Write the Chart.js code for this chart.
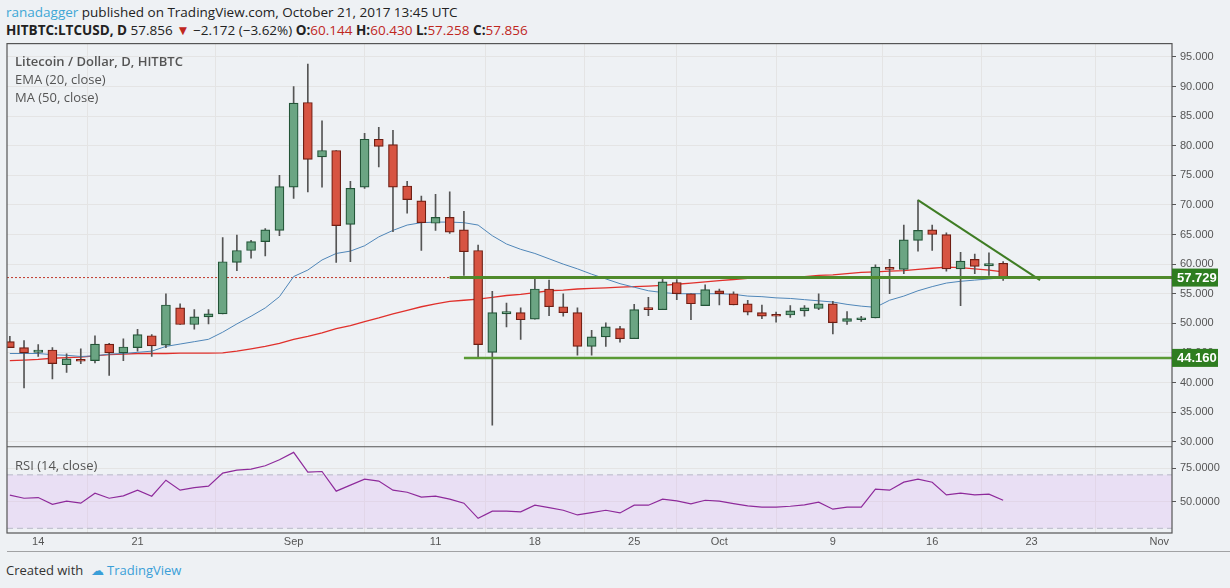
<!DOCTYPE html>
<html><head><meta charset="utf-8">
<script src="https://cdn.jsdelivr.net/npm/chart.js@4.4.1/dist/chart.umd.min.js"></script>
<style>
body{margin:0;width:1230px;height:588px;background:#eef1f4;font-family:"Open Sans",sans-serif;position:relative;overflow:hidden}
#h1{position:absolute;left:6px;top:3px;font-size:13.5px;color:#222}
#h2{position:absolute;left:6px;top:21px;font-size:13.5px;color:#222}
#h2 .r{color:#c0271e}
#leg{position:absolute;left:15px;top:52px;font-size:13px;color:#555;line-height:18px}
#foot{position:absolute;left:6px;top:561px;font-size:13px;color:#333}
#foot .tv{color:#3a9fd8;margin-left:4px}
canvas{position:absolute;left:0;top:33px}
</style></head><body>
<div id="h1"><span style="color:#3fa7d6">ranadagger</span> published on TradingView.com, October 21, 2017 13:45 UTC</div>
<div id="h2"><b>HITBTC:LTCUSD, D</b> 57.856 <span class="r">▼</span> −2.172 (−3.62%) <b>O:</b><span class="r">60.144</span> <b>H:</b><span class="r">60.430</span> <b>L:</b><span class="r">57.258</span> <b>C:</b><span class="r">57.856</span></div>
<canvas id="c" width="1230" height="519"></canvas>
<div id="leg"><span style="font-weight:600">Litecoin / Dollar, D, HITBTC</span><br>EMA (20, close)<br>MA (50, close)</div>
<div id="rsil" style="position:absolute;left:15px;top:456px;font-size:13px;color:#555">RSI (14, close)</div>
<div id="foot">Created with <span class="tv">☁ TradingView</span></div>
<script>
const opens=[46.9,45.9,45.1,45.5,43.0,43.8,43.7,46.5,45.0,45.9,47.9,46.3,52.6,49.8,51.1,51.6,60.3,62.3,63.8,65.7,73.0,87.3,78.1,79.2,66.7,73.0,81.1,80.2,73.2,70.7,66.9,67.9,65.8,62.3,45.1,51.6,51.8,50.7,55.8,52.8,51.8,46.1,47.7,49.1,47.4,52.4,52.3,56.9,55.0,53.0,55.5,55.0,53.3,51.8,51.4,51.4,52.1,52.5,53.3,50.3,50.6,50.9,59.4,59.1,64.0,65.8,65.0,59.2,60.8,59.7,60.144];
const highs=[47.8,47.1,46.4,45.9,44.85,45.7,47.9,46.6,47.4,49.0,48.1,55.0,53.3,52.3,52.3,64.5,64.9,64.0,66.0,75.0,90.0,93.8,84.2,79.2,74.0,82.1,83.1,82.6,74.0,71.5,71.8,72.2,68.9,63.2,55.4,53.4,52.6,57.7,57.3,55.0,52.6,48.8,50.1,49.5,53.2,54.4,57.5,57.4,55.0,56.5,55.8,55.3,53.9,53.1,51.9,53.0,53.0,55.0,53.7,52.0,51.2,59.9,60.8,66.6,70.8,66.6,65.3,62.0,61.7,61.9,60.43];
const lows=[45.9,39.1,44.4,40.6,41.7,43.2,43.3,41.2,43.7,45.3,44.4,45.9,49.8,49.0,49.9,51.6,58.9,61.0,61.4,64.8,71.1,72.2,73.0,60.3,60.4,72.8,76.4,65.5,68.6,62.3,65.7,65.2,58.1,44.3,32.8,49.4,47.3,50.7,51.3,51.2,44.6,44.6,46.1,46.8,47.4,51.3,52.3,54.0,50.6,53.0,53.1,53.1,51.4,50.8,50.2,51.0,51.2,52.3,48.2,49.8,50.3,50.9,55.0,58.4,62.2,62.3,58.8,53.0,58.4,58.1,57.258];
const closes=[45.9,45.0,45.5,43.2,44.0,43.6,46.5,45.0,46.0,48.1,46.2,53.1,49.8,51.1,51.6,60.4,62.3,63.8,65.8,73.1,87.2,77.7,79.2,66.5,72.8,81.1,79.9,73.0,70.9,67.0,67.9,65.4,62.1,46.4,51.8,52.0,50.6,55.8,52.8,51.8,46.1,47.7,49.4,47.4,52.3,52.3,57.0,55.0,53.3,55.7,55.0,53.1,51.9,51.2,51.2,52.1,52.6,53.3,50.1,50.8,50.8,59.5,59.1,64.1,65.7,65.0,59.2,60.5,59.6,60.1,57.856];
const ema20=[44.9,44.9,44.9,44.7,44.6,44.4,44.5,44.8,44.9,45.1,45.3,46.1,46.5,46.9,47.3,48.5,49.9,51.2,52.6,54.5,57.9,59.0,60.7,61.8,62.2,63.1,64.6,65.7,66.6,67.0,67.1,67.1,67.0,66.6,64.8,63.4,62.5,61.8,60.9,60.0,59.2,58.3,57.5,56.7,56.1,55.5,55.2,55.0,55.0,55.0,55.0,54.9,54.6,54.5,54.3,54.2,54.0,53.8,53.6,53.2,52.9,52.7,53.9,54.6,55.5,56.2,56.8,57.1,57.3,57.5,57.7];
const ma50=[43.7,43.8,43.9,44.1,44.2,44.3,44.5,44.7,44.8,44.9,44.9,44.9,44.95,44.95,44.95,45.0,45.3,45.7,46.1,46.6,47.3,47.8,48.4,49.1,49.6,50.3,50.9,51.6,52.2,52.8,53.3,53.7,53.9,54.1,54.4,54.7,54.9,55.2,55.5,55.6,55.8,55.9,56.0,56.1,56.2,56.3,56.4,56.6,56.8,57.0,57.2,57.4,57.6,57.7,57.7,57.8,57.9,58.1,58.2,58.4,58.6,58.7,58.8,58.9,59.1,59.3,59.5,59.4,59.2,59.0,58.7];
const rsi14=[54.8,52.5,53.0,48.0,50.3,48.8,56.3,52.5,54.3,58.5,54.0,66.0,58.5,60.5,61.5,71.3,73.5,74.3,76.8,81.3,86.8,72.0,72.5,57.8,62.3,66.8,65.3,58.5,57.0,53.3,54.0,51.8,48.8,37.5,42.8,42.8,42.3,47.3,45.5,43.5,40.0,41.8,43.5,41.5,47.3,47.3,51.8,50.5,48.3,51.0,50.3,48.5,46.8,45.8,45.8,46.5,47.5,49.5,44.3,45.8,45.8,59.3,58.5,64.5,66.8,64.5,55.0,56.3,55.0,55.5,51.0];
const tickDays=[2,9,20,30,37,44,50,58,65,72,81];
const tickLabels=['14','21','Sep','11','18','25','Oct','9','16','23','Nov'];
const resistance=57.729, support=44.160;
const resStart=31, supStart=32, lineEnd=82;
const trendline=[{x:64,y:70.8},{x:72.6,y:57.3}];

const days=opens.map((_,i)=>i);
const up=opens.map((o,i)=>closes[i]>=o);
const bodyFill=up.map(u=>u?'#6ba583':'#d75442');
const bodyBorder=up.map(u=>u?'#225437':'#6f1e13');

const panePlugin={id:'pane',
 beforeDatasetsDraw(ch){const c=ch.ctx,a=ch.chartArea,r=ch.scales.y2,x=ch.scales.x;
  c.save();c.fillStyle='rgba(221,170,245,0.25)';
  const y70=r.getPixelForValue(70),y30=r.getPixelForValue(30);
  c.fillRect(a.left,y70,a.right-a.left,y30-y70);
  c.strokeStyle='#b8b8c8';c.setLineDash([6,4]);c.lineWidth=1;
  [y70,y30].forEach(y=>{c.beginPath();c.moveTo(a.left,y);c.lineTo(a.right,y);c.stroke();});
  c.setLineDash([]);
  const yp=ch.scales.y.getPixelForValue(resistance);
  c.strokeStyle='#c0392b';c.setLineDash([2,2]);c.beginPath();c.moveTo(a.left,yp);c.lineTo(x.getPixelForValue(resStart),yp);c.stroke();
  c.restore();},
 afterDraw(ch){const c=ch.ctx,a=ch.chartArea,y=ch.scales.y;
  c.save();c.strokeStyle='#555';c.lineWidth=1.2;
  c.strokeRect(a.left,a.top,a.right-a.left,a.bottom-a.top);
  c.beginPath();c.moveTo(a.left,y.bottom);c.lineTo(a.right,y.bottom);c.stroke();
  c.beginPath();c.moveTo(a.left,a.bottom+19);c.lineTo(1230,a.bottom+19);c.stroke();
  c.font='bold 13px Arial';c.textBaseline='middle';
  [resistance,support].forEach(v=>{const p=y.getPixelForValue(v);
   c.fillStyle='#2e7d20';c.fillRect(a.right,p-9,46,18);c.fillStyle='#fff';c.fillText(v.toFixed(3),a.right+5,p+1);});
  c.restore();}
};

const pts=a=>a.map((v,i)=>({x:i,y:v}));
new Chart(document.getElementById('c'),{
 type:'bar',
 data:{datasets:[
  {type:'line',data:pts(ema20),yAxisID:'y',borderColor:'#4f86b8',borderWidth:1,pointRadius:0,order:5},
  {type:'line',data:pts(ma50),yAxisID:'y',borderColor:'#e0302b',borderWidth:1.3,pointRadius:0,order:5},
  {data:days.map(i=>({x:i,y:[lows[i],highs[i]]})),yAxisID:'y',backgroundColor:'#555',barThickness:1,grouped:false,order:2},
  {data:days.map(i=>({x:i,y:[opens[i],closes[i]]})),yAxisID:'y',backgroundColor:bodyFill,borderColor:bodyBorder,borderWidth:1.2,borderSkipped:false,barThickness:9,minBarLength:2,grouped:false,order:1},
  {type:'line',data:[{x:resStart,y:resistance},{x:lineEnd,y:resistance}],yAxisID:'y',borderColor:'#4f8a2b',borderWidth:3,pointRadius:0,order:0},
  {type:'line',data:[{x:resStart,y:resistance},{x:lineEnd,y:resistance}],yAxisID:'y',borderColor:'#b8c94a',borderWidth:1,borderDash:[2,2],pointRadius:0,order:0},
  {type:'line',data:[{x:supStart,y:support},{x:lineEnd,y:support}],yAxisID:'y',borderColor:'#5a9a34',borderWidth:2.5,pointRadius:0,order:0},
  {type:'line',data:trendline,yAxisID:'y',borderColor:'#3f7d24',borderWidth:2,pointRadius:0,order:0},
  {type:'line',data:pts(rsi14),yAxisID:'y2',borderColor:'#8e2a9b',borderWidth:1.2,pointRadius:0,order:0,clip:false}
 ]},
 options:{animation:false,responsive:false,
  layout:{padding:{left:7,top:0,right:0,bottom:0}},
  plugins:{legend:{display:false},tooltip:{enabled:false}},
  scales:{
   x:{type:'linear',min:-0.2,max:81.9,offset:false,
    afterBuildTicks:s=>{s.ticks=tickDays.map(v=>({value:v}));},
    afterFit:s=>{s.height=19;},
    ticks:{autoSkip:false,maxRotation:0,color:'#555',font:{size:11,family:'Arial'},padding:2,callback:(v)=>tickLabels[tickDays.indexOf(v)]},
    grid:{color:'#e4e4e4',drawTicks:false},border:{display:false}},
   y:{position:'right',stack:'s',stackWeight:402,min:29.15,max:97.25,
    afterBuildTicks:s=>{const t=[];for(let v=30;v<=95;v+=5)t.push({value:v});s.ticks=t;},
    afterFit:s=>{s.width=58;},
    ticks:{autoSkip:false,color:'#555',font:{size:11,family:'Arial'},padding:4,callback:v=>v.toFixed(3)},
    grid:{color:'#e4e4e4',tickLength:4,tickColor:'#555'},border:{display:false}},
   y2:{type:'linear',axis:'y',position:'right',stack:'s',stackWeight:86,min:26.5,max:91,offset:false,
    afterBuildTicks:s=>{s.ticks=[{value:50},{value:75}];},
    afterFit:s=>{s.width=58;},
    ticks:{autoSkip:false,color:'#555',font:{size:11,family:'Arial'},padding:4,callback:v=>v.toFixed(4)},
    grid:{color:'#e4e4e4',tickLength:4,tickColor:'#555'},border:{display:false}}
  }},
 plugins:[panePlugin]
});
</script></body></html>
